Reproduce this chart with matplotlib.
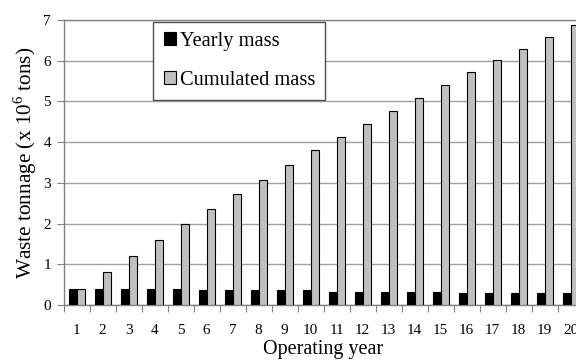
import numpy as np
import matplotlib
matplotlib.use("Agg")
import matplotlib.pyplot as plt

# valori (milioni di tonnellate)
years = list(range(1, 21))
yearly_mass = [0.40, 0.40, 0.40, 0.40, 0.40, 0.36, 0.36, 0.36, 0.36, 0.37,
               0.33, 0.33, 0.33, 0.33, 0.33, 0.30, 0.30, 0.30, 0.30, 0.30]
cumulated_mass = [0.40, 0.80, 1.20, 1.60, 2.00, 2.36, 2.72, 3.08, 3.44, 3.80,
                  4.12, 4.44, 4.77, 5.09, 5.41, 5.72, 6.01, 6.29, 6.58, 6.87]

plt.rcParams['font.family'] = ['Liberation Serif', 'DejaVu Serif']
plt.rcParams['mathtext.fontset'] = 'custom'
plt.rcParams['mathtext.rm'] = 'Liberation Serif'

fig = plt.figure(figsize=(5.76, 3.62), dpi=100)
# l'asse continua oltre il bordo destro dell'immagine, come nell'originale
ax = fig.add_axes([63.5/576, 57/362, 520/576, 285/362])

x = np.arange(len(years))
w = 0.30
ax.bar(x - 0.135, yearly_mass, w, color='black', edgecolor='black', linewidth=0.8,
       label='Yearly mass', zorder=3)
ax.bar(x + 0.165, cumulated_mass, w, color='#c0c0c0', edgecolor='black', linewidth=0.8,
       label='Cumulated mass', zorder=3)

ax.set_xlim(-0.5, len(years) - 0.5)
ax.set_ylim(0, 7)
ax.set_yticks(range(0, 8))
ax.yaxis.grid(True, color='#a0a0a0', linewidth=1, zorder=0)

# tick sui bordi delle categorie, etichette al centro
ax.set_xticks(np.arange(-0.5, len(years) + 0.5, 1))
ax.set_xticklabels([])
ax.set_xticks(x, minor=True)
ax.set_xticklabels([str(y) for y in years], minor=True)
ax.tick_params(axis='x', which='minor', length=0, pad=14, labelsize=11)
ax.tick_params(axis='x', which='major', direction='out', length=5, color='#808080')
ax.tick_params(axis='y', direction='out', length=5, color='#808080', labelsize=11, pad=4)

for s in ['left', 'bottom', 'top']:
    ax.spines[s].set_color('#808080')
    ax.spines[s].set_linewidth(1)
ax.spines['right'].set_visible(False)

ax.set_xlabel('Operating year', fontsize=14.5, labelpad=2)
ax.set_ylabel('Waste tonnage (x 10$^{\\mathrm{6}}$ tons)', fontsize=15.3, labelpad=3)

leg = ax.legend(loc='upper left', bbox_to_anchor=(0.1727, 0.994), fontsize=14.7,
                frameon=True, fancybox=False, edgecolor='#505050', framealpha=1,
                borderaxespad=0, borderpad=0.5, labelspacing=0.98,
                handlelength=0.6, handleheight=0.6, handletextpad=0.2)
leg.get_frame().set_linewidth(1)

plt.savefig('out.png', dpi=100)
